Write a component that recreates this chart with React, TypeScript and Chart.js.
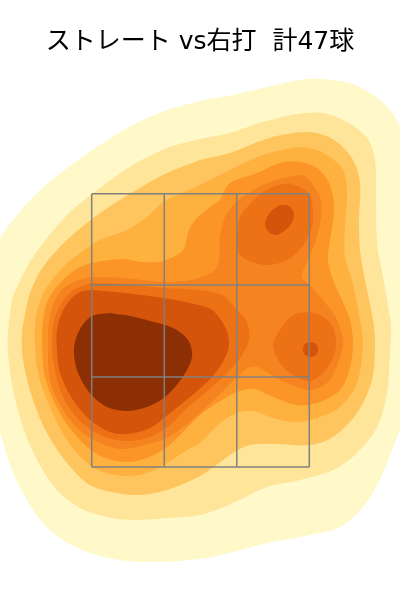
import React, { useEffect, useRef } from "react";
import { Chart, registerables } from "chart.js";

Chart.register(...registerables);

type Pt = [number, number];

const titleText = "ストレート vs右打  計47球";

const zoneColumns = [91.7, 164.3, 236.8, 309.3];
const zoneRows = [133, 223, 315, 406.3];

const level1: Pt[] = [[200,499],[233,505],[267,513],[300,520],[320,521],[350,517],[373,505],[390,490],[400,473],[410,430],[415,320],[410,220],[400,170],[393,153],[380,120],[363,93],[340,73],[310,65],[267,57],[233,48],[200,41],[150,38],[120,40],[90,47],[63,60],[43,77],[27,100],[13,127],[0,168],[-8,200],[-12,250],[-10,300],[0,360],[13,380],[33,403],[67,432],[100,455],[133,475],[167,490]];
const level2: Pt[] = [[200,461],[230,467],[263,478],[297,486],[323,487],[347,478],[367,462],[375,440],[376,407],[377,357],[383,323],[387,300],[391,273],[390,250],[387,207],[377,173],[357,147],[333,130],[300,120],[267,113],[233,97],[200,85],[167,82],[133,80],[107,83],[80,92],[57,110],[37,140],[23,173],[13,210],[8,247],[8,267],[12,300],[17,313],[33,343],[67,385],[100,412],[133,435],[167,452]];
const level3: Pt[] = [[200,440],[230,447],[263,460],[293,467],[317,467],[337,458],[353,440],[360,417],[359,380],[360,350],[365,320],[373,280],[375,257],[372,220],[357,187],[333,163],[310,155],[277,156],[250,155],[233,147],[200,124],[167,110],[140,105],[117,107],[90,115],[67,137],[47,167],[33,200],[23,240],[22,267],[24,280],[30,307],[43,333],[67,360],[100,387],[133,408],[167,427]];
const level4: Pt[] = [[200,415],[230,430],[263,445],[293,452],[313,451],[330,443],[343,430],[347,407],[345,373],[345,343],[352,320],[360,280],[363,257],[357,217],[340,193],[317,182],[297,178],[273,182],[253,189],[237,187],[220,177],[200,157],[187,150],[167,137],[147,127],[127,124],[103,128],[87,137],[67,160],[50,193],[38,227],[35,255],[35,275],[38,293],[47,313],[63,333],[80,347],[100,360],[127,370],[147,383],[163,398],[173,403]];
const level5: Pt[] = [[220,400],[230,417],[257,427],[280,437],[300,438],[317,432],[330,415],[334,390],[330,360],[328,340],[333,320],[342,300],[350,280],[353,257],[350,233],[340,210],[317,197],[297,195],[273,203],[253,211],[237,208],[217,197],[200,185],[187,172],[167,153],[147,142],[127,138],[103,143],[80,160],[60,187],[45,223],[42,260],[43,280],[48,300],[60,317],[75,330],[92,337],[123,341],[143,338],[163,339],[183,350],[188,367],[195,380],[210,393]];
const level6: Pt[] = [[92,323],[73,318],[60,308],[53,295],[49,277],[48,255],[50,220],[63,190],[83,167],[107,154],[125,151],[145,155],[167,162],[183,173],[200,187],[217,203],[237,223],[248,232],[257,233],[267,228],[280,220],[297,213],[310,210],[327,217],[338,237],[343,257],[337,280],[323,300],[312,313],[302,323],[308,340],[315,357],[321,383],[320,403],[307,422],[300,425],[267,417],[243,403],[227,387],[220,363],[219,340],[213,328],[190,320],[163,318],[125,322]];
const level7Left: Pt[] = [[92,317],[77,312],[65,302],[57,288],[53,273],[52,250],[56,225],[62,205],[77,182],[100,165],[125,159],[150,163],[170,175],[185,190],[205,207],[223,223],[240,242],[249,260],[247,278],[237,290],[222,305],[197,310],[163,312],[125,316]];
const level7Top: Pt[] = [[237,367],[237,350],[247,340],[267,335],[287,340],[302,353],[312,373],[313,390],[308,407],[290,416],[273,413],[257,403],[240,383]];
const level7Right: Pt[] = [[309,288],[293,285],[280,270],[273,255],[280,237],[293,225],[309,219],[323,227],[333,242],[336,257],[332,275],[320,285]];
const level8Left: Pt[] = [[92,310],[80,308],[70,300],[62,287],[57,270],[57,250],[60,227],[73,200],[90,180],[110,168],[127,166],[150,172],[170,187],[190,203],[212,223],[225,242],[229,257],[225,273],[212,290],[190,297],[163,302],[125,307]];
const level8Top: Pt[] = [[280,395],[289,394],[294,386],[291,376],[283,368],[275,365],[268,369],[265,377],[269,386],[275,392]];
const level8Right: Pt[] = [[310.5,258],[316,256],[318,250.5],[316,245],[310.5,243],[305,245],[303,250.5],[305,256]];
const level9: Pt[] = [[110,287],[92,284],[80,271],[74,252],[77,230],[89,208],[107,193],[127,189],[147,193],[165,203],[182,222],[192,243],[188,260],[173,272],[150,279],[130,284]];

const bands: [Pt[], string][] = [
  [level1, "#FFF8C9"],
  [level2, "#FEE599"],
  [level3, "#FEC55E"],
  [level4, "#FEB13F"],
  [level5, "#FC9527"],
  [level6, "#F5831F"],
  [level7Left, "#ED7215"],
  [level7Top, "#ED7215"],
  [level7Right, "#ED7215"],
  [level8Left, "#D3540A"],
  [level8Top, "#D3540A"],
  [level8Right, "#D3540A"],
  [level9, "#8C2F04"],
];

export default function App() {
  const ref = useRef<HTMLCanvasElement>(null);
  useEffect(() => {
    const contourSets = bands.map(([pts, color], i) => ({
      data: [...pts, pts[0]].map(([x, y]) => ({ x, y })),
      showLine: true,
      fill: "shape",
      backgroundColor: color,
      borderWidth: 0,
      pointRadius: 0,
      tension: 0.33,
      order: 100 - i,
    }));
    const grid = "#808080";
    const top = zoneRows[zoneRows.length - 1];
    const bottom = zoneRows[0];
    const left = zoneColumns[0];
    const right = zoneColumns[zoneColumns.length - 1];
    const lineSet = (data: { x: number; y: number }[]) => ({
      data,
      showLine: true,
      fill: false,
      borderColor: grid,
      borderWidth: 1.5,
      pointRadius: 0,
      tension: 0,
      order: 0,
    });
    const gridSets = [
      ...zoneColumns.map((x) => lineSet([{ x, y: bottom }, { x, y: top }])),
      ...zoneRows.map((y) => lineSet([{ x: left, y }, { x: right, y }])),
    ];
    const chart = new Chart(ref.current!, {
      type: "scatter",
      data: { datasets: [...contourSets, ...gridSets] as any },
      options: {
        responsive: false,
        animation: false,
        layout: { padding: 0 },
        plugins: {
          legend: { display: false },
          tooltip: { enabled: false },
          title: {
            display: true,
            text: titleText,
            color: "#000000",
            font: { family: "'DejaVu Sans', 'Noto Sans CJK JP'", size: 25, weight: "normal", lineHeight: 1.2 },
            padding: { top: 27, bottom: 3 },
          },
        },
        scales: {
          x: { type: "linear", min: 0, max: 400, display: false },
          y: { type: "linear", min: 0, max: 540, display: false },
        },
      },
    });
    return () => chart.destroy();
  }, []);
  return (
    <div style={{ position: "fixed", left: 0, top: 0, width: 400, height: 600, background: "#ffffff" }}>
      <canvas ref={ref} width={400} height={600} style={{ display: "block" }} />
    </div>
  );
}
